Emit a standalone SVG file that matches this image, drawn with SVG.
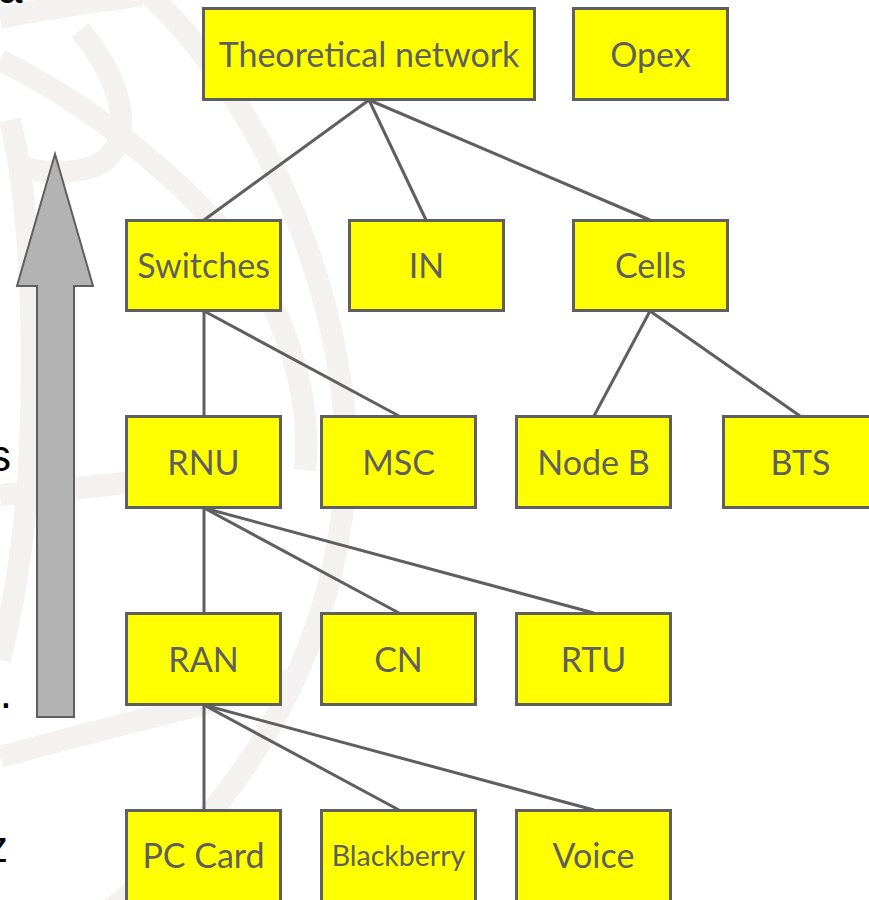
<svg xmlns="http://www.w3.org/2000/svg" width="869" height="900" viewBox="0 0 869 900">
<style>
.wm{fill:none;stroke:#f3f2f1;stroke-width:22}
.box rect{fill:#ffff00;stroke:#5f5f5f;stroke-width:3}
.box text{font-family:Lato,"Open Sans",sans-serif;font-size:34px;fill:#5f5f5f;text-anchor:middle}
.box text.sm{font-size:28.5px}
.frag{font-family:"Liberation Sans",Arial,sans-serif;font-size:44px;fill:#000}
#connectors line{stroke:#5f5f5f;stroke-width:3}
</style>
<rect width="869" height="900" fill="#fff"/>
<g id="watermark">
<path class="wm" d="M145,-10 C250,90 330,250 345,420 C355,560 300,760 110,910"/>
<path class="wm" d="M0,60 C120,120 230,220 270,300 C300,360 310,420 305,470"/>
<path class="wm" d="M0,18 C60,5 120,0 140,-5"/>
<path class="wm" d="M80,30 C130,90 140,160 80,170 C50,175 30,170 20,165"/>
<path class="wm" d="M10,120 C30,200 35,330 30,450 C25,550 10,620 0,660"/>
<path class="wm" d="M0,495 C60,490 110,485 130,482"/>
<path class="wm" d="M0,757 C80,735 150,718 220,700 C260,690 290,680 300,676"/>
</g>
<g id="fragments">
<text class="frag" x="-2" y="3">a</text>
<text class="frag" x="11" y="471" text-anchor="end">s</text>
<text class="frag" x="12" y="708" text-anchor="end">.</text>
<text class="frag" x="8" y="862" text-anchor="end">z</text>
</g>
<g id="arrow">
<polygon points="55,154 93,286 74,286 74,717 37,717 37,286 17,286" fill="#b3b3b3" stroke="#5f5f5f" stroke-width="2"/>
</g>
<g id="connectors">
<line x1="369" y1="100" x2="204" y2="220"/>
<line x1="369" y1="100" x2="426" y2="220"/>
<line x1="369" y1="100" x2="650" y2="220"/>
<line x1="204" y1="311" x2="204" y2="416"/>
<line x1="204" y1="311" x2="399" y2="416"/>
<line x1="650" y1="311" x2="594" y2="416"/>
<line x1="650" y1="311" x2="800" y2="416"/>
<line x1="204" y1="508" x2="204" y2="613"/>
<line x1="204" y1="508" x2="399" y2="613"/>
<line x1="204" y1="508" x2="594" y2="613"/>
<line x1="204" y1="705" x2="204" y2="810"/>
<line x1="204" y1="705" x2="399" y2="810"/>
<line x1="204" y1="705" x2="594" y2="810"/>
</g>
<g id="theoretical" class="box"><rect x="203.5" y="8.5" width="331" height="91"/><text x="369" y="67">Theoretical network</text></g>
<g id="opex" class="box"><rect x="573.5" y="8.5" width="154" height="91"/><text x="650.5" y="67">Opex</text></g>
<g id="switches" class="box"><rect x="126.5" y="220.5" width="154" height="90"/><text x="203.5" y="278">Switches</text></g>
<g id="in" class="box"><rect x="349.5" y="220.5" width="154" height="90"/><text x="426.5" y="278">IN</text></g>
<g id="cells" class="box"><rect x="573.5" y="220.5" width="154" height="90"/><text x="650.5" y="278">Cells</text></g>
<g id="rnu" class="box"><rect x="126.5" y="416.5" width="154" height="91"/><text x="203.5" y="475">RNU</text></g>
<g id="msc" class="box"><rect x="321.5" y="416.5" width="154" height="91"/><text x="398.5" y="475">MSC</text></g>
<g id="nodeb" class="box"><rect x="516.5" y="416.5" width="154" height="91"/><text x="593.5" y="475">Node B</text></g>
<g id="bts" class="box"><rect x="723.5" y="416.5" width="154" height="91"/><text x="800.5" y="475">BTS</text></g>
<g id="ran" class="box"><rect x="126.5" y="613.5" width="154" height="91"/><text x="203.5" y="672">RAN</text></g>
<g id="cn" class="box"><rect x="321.5" y="613.5" width="154" height="91"/><text x="398.5" y="672">CN</text></g>
<g id="rtu" class="box"><rect x="516.5" y="613.5" width="154" height="91"/><text x="593.5" y="672">RTU</text></g>
<g id="pccard" class="box"><rect x="126.5" y="810.5" width="154" height="91"/><text x="203.5" y="868">PC Card</text></g>
<g id="blackberry" class="box"><rect x="321.5" y="810.5" width="154" height="91"/><text class="sm" x="398.5" y="866">Blackberry</text></g>
<g id="voice" class="box"><rect x="516.5" y="810.5" width="154" height="91"/><text x="593.5" y="868">Voice</text></g>
</svg>
